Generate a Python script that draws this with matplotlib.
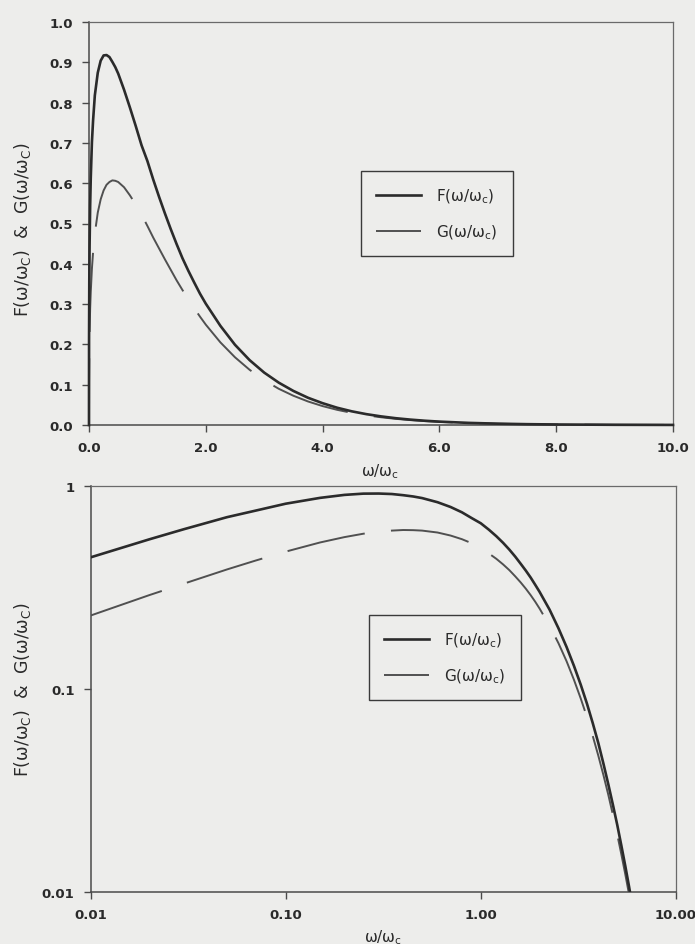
import matplotlib
matplotlib.use("Agg")
import matplotlib.pyplot as plt
from matplotlib.ticker import FixedLocator, NullLocator

# Synchrotron emission functions tabulated against w/wc
x_vals = [0.0, 0.001, 0.005, 0.01, 0.02, 0.03, 0.05, 0.07, 0.1, 0.15, 0.2, 0.25,
          0.3, 0.35, 0.4, 0.45, 0.5, 0.6, 0.7, 0.8, 0.9, 1.0, 1.1, 1.2, 1.3, 1.4, 1.5,
          1.6, 1.7, 1.8, 1.9, 2.0, 2.25, 2.5, 2.75, 3.0, 3.25, 3.5, 3.75, 4.0, 4.25,
          4.5, 4.75, 5.0, 5.25, 5.5, 5.75, 6.0, 6.5, 7.0, 7.5, 8.0, 9.0, 10.0]
F_vals = [0.0, 0.213, 0.358, 0.445, 0.546, 0.612, 0.702, 0.756, 0.818, 0.874, 0.904, 0.917,
          0.918, 0.913, 0.901, 0.888, 0.872, 0.832, 0.788, 0.742, 0.694, 0.655, 0.609, 0.566, 0.525, 0.486, 0.449,
          0.414, 0.383, 0.354, 0.326, 0.301, 0.246, 0.199, 0.161, 0.130, 0.105, 0.0845, 0.0676, 0.0541, 0.0428,
          0.0339, 0.0269, 0.0214, 0.0169, 0.0134, 0.0106, 0.00837, 0.00526, 0.0033, 0.00206, 0.00128, 0.0005, 0.000192]
G_vals = [0.0, 0.107, 0.183, 0.230, 0.290, 0.330, 0.388, 0.429, 0.475, 0.527, 0.560, 0.582,
          0.596, 0.603, 0.607, 0.606, 0.603, 0.590, 0.570, 0.547, 0.522, 0.494, 0.465, 0.438, 0.411, 0.385, 0.359,
          0.335, 0.312, 0.290, 0.269, 0.249, 0.205, 0.168, 0.137, 0.111, 0.0898, 0.0726, 0.0584, 0.0469, 0.0376,
          0.0301, 0.0240, 0.0192, 0.0153, 0.0122, 0.00971, 0.00773, 0.00486, 0.00306, 0.00192, 0.00120, 0.00047, 0.00018]

lin_xticks = [0, 2, 4, 6, 8, 10]
lin_xticklabels = ["0.0", "2.0", "4.0", "6.0", "8.0", "10.0"]
lin_yticks = [0.0, 0.1, 0.2, 0.3, 0.4, 0.5, 0.6, 0.7, 0.8, 0.9, 1.0]
lin_yticklabels = ["0.0", "0.1", "0.2", "0.3", "0.4", "0.5", "0.6", "0.7", "0.8", "0.9", "1.0"]
log_xticks = [0.01, 0.1, 1.0, 10.0]
log_xticklabels = ["0.01", "0.10", "1.00", "10.00"]
log_yticks = [0.01, 0.1, 1.0]
log_yticklabels = ["0.01", "0.1", "1"]

F_label = "F(ω/ω$_\\mathregular{c}$)"
G_label = "G(ω/ω$_\\mathregular{c}$)"
y_label = "F(ω/ω$_\\mathregular{C}$)  &  G(ω/ω$_\\mathregular{C}$)"
x_label = "ω/ω$_\\mathregular{c}$"

BG = "#ededeb"
F_COLOR = "#2b2b2b"
G_COLOR = "#505050"
SPINE = "#4a4a4a"
TEXT = "#2a2a2a"

plt.rcParams["font.family"] = ["DejaVu Sans"]
plt.rcParams["lines.scale_dashes"] = False

W, H = 695, 945
fig = plt.figure(figsize=(W / 100, H / 100), dpi=100, facecolor=BG)


def frame(px_left, px_top, px_right, px_bottom):
    return [px_left / W, 1 - px_bottom / H, (px_right - px_left) / W, (px_bottom - px_top) / H]


ax1 = fig.add_axes(frame(89, 23, 673, 426))
ax2 = fig.add_axes(frame(90.5, 487, 676, 893))

dash = (9, (57, 19))

# linear panel
ax1.plot(x_vals, F_vals, color=F_COLOR, lw=1.9, zorder=4, clip_on=False, label=F_label)
ax1.plot(x_vals, G_vals, color=G_COLOR, lw=1.4, ls=dash, zorder=3, clip_on=False, label=G_label)
ax1.set_xlim(0, 10)
ax1.set_ylim(0, 1)
ax1.xaxis.set_major_locator(FixedLocator(lin_xticks))
ax1.set_xticklabels(lin_xticklabels, fontweight="bold")
ax1.yaxis.set_major_locator(FixedLocator(lin_yticks))
ax1.set_yticklabels(lin_yticklabels, fontweight="bold")

# log-log panel
pos = [i for i, v in enumerate(x_vals) if v > 0]
lx = [x_vals[i] for i in pos]
lF = [F_vals[i] for i in pos]
lG = [G_vals[i] for i in pos]
ax2.plot(lx, lF, color=F_COLOR, lw=1.9, zorder=4, label=F_label)
ax2.plot(lx, lG, color=G_COLOR, lw=1.4, ls=dash, zorder=3, label=G_label)
ax2.set_xscale("log")
ax2.set_yscale("log")
ax2.set_xlim(0.01, 10)
ax2.set_ylim(0.01, 1)
ax2.xaxis.set_major_locator(FixedLocator(log_xticks))
ax2.xaxis.set_minor_locator(NullLocator())
ax2.set_xticklabels(log_xticklabels, fontweight="bold")
ax2.yaxis.set_major_locator(FixedLocator(log_yticks))
ax2.yaxis.set_minor_locator(NullLocator())
ax2.set_yticklabels(log_yticklabels, fontweight="bold")

for ax in (ax1, ax2):
    ax.set_facecolor(BG)
    for side in ("left", "bottom"):
        ax.spines[side].set_color(SPINE)
        ax.spines[side].set_linewidth(1.1)
    for side in ("top", "right"):
        ax.spines[side].set_color("#6a6a6a")
        ax.spines[side].set_linewidth(0.9)
    ax.tick_params(which="both", direction="out", length=5, width=1.0, color=SPINE,
                   labelsize=9.5, labelcolor=TEXT, pad=6.5)

leg_kw = dict(loc="upper left", frameon=True, fancybox=False, fontsize=11,
              handlelength=2.9, handletextpad=1.0, borderpad=1.0, labelspacing=1.15,
              borderaxespad=0.0)
leg1 = ax1.legend(bbox_to_anchor=(361 / W, 1 - 172 / H), bbox_transform=fig.transFigure, **leg_kw)
leg2 = ax2.legend(bbox_to_anchor=(369 / W, 1 - 616 / H), bbox_transform=fig.transFigure, **leg_kw)
for leg in (leg1, leg2):
    fr = leg.get_frame()
    fr.set_facecolor(BG)
    fr.set_edgecolor("#3a3a3a")
    fr.set_linewidth(1.0)
    fr.set_alpha(1.0)
    for t in leg.get_texts():
        t.set_color(TEXT)

fig.text(23 / W, 1 - 230 / H, y_label, rotation=90, ha="center", va="center", fontsize=12.5, color=TEXT)
fig.text(23 / W, 1 - 690 / H, y_label, rotation=90, ha="center", va="center", fontsize=12.5, color=TEXT)
fig.text(380 / W, 1 - 472 / H, x_label, ha="center", va="center", fontsize=11, color=TEXT)
fig.text(383 / W, 1 - 938 / H, x_label, ha="center", va="center", fontsize=11, color=TEXT)

fig.savefig("out.png", dpi=100, facecolor=BG)
